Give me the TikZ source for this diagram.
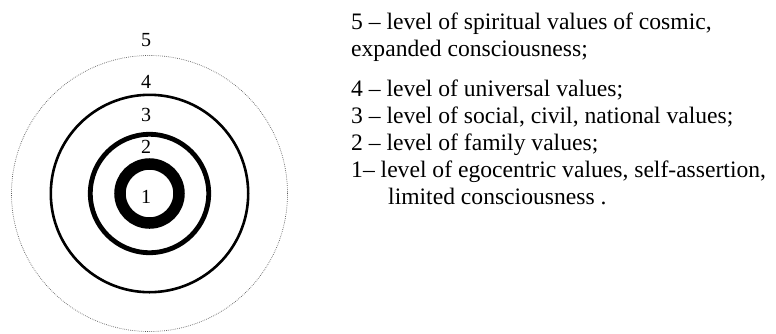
\documentclass[tikz,border=0pt]{standalone}
\usepackage{fontspec}
\setmainfont{Liberation Serif}
\begin{document}
\begin{tikzpicture}[x=1pt,y=-1pt,
  lbl/.style={inner sep=0pt,font=\fontsize{20}{22}\selectfont},
  txt/.style={inner sep=0pt,anchor=base west,font=\fontsize{23.6}{27}\selectfont}]
\useasboundingbox (0,0) rectangle (776,333);
\coordinate (c) at (149.5,193.5);
\draw[gray!70!black,line width=0.7pt,dash pattern=on 0.7pt off 1.2pt] (c) circle[radius=138];
\draw[line width=2.6pt] (c) circle[radius=98.7];
\draw[line width=4.8pt] (c) circle[radius=59.2];
\draw[line width=11.5pt] (c) circle[radius=29.5];
\node[lbl] (n5) at (146,40) {5};
\node[lbl] (n4) at (146,82) {4};
\node[lbl] (n3) at (146,115) {3};
\node[lbl] (n2) at (146,147) {2};
\node[lbl] (n1) at (146,197) {1};
\node[txt] (t5a) at (351,29.5) {5 – level of spiritual values of cosmic,};
\node[txt] (t5b) at (351,56.5) {expanded consciousness;};
\node[txt] (t4) at (351,96) {4 – level of universal values;};
\node[txt] (t3) at (351,123) {3 – level of social, civil, national values;};
\node[txt] (t2) at (351,150) {2 – level of family values;};
\node[txt] (t1a) at (351,177) {1– level of egocentric values, self-assertion,};
\node[txt] (t1b) at (388,204) {limited consciousness .};
\end{tikzpicture}
\end{document}
